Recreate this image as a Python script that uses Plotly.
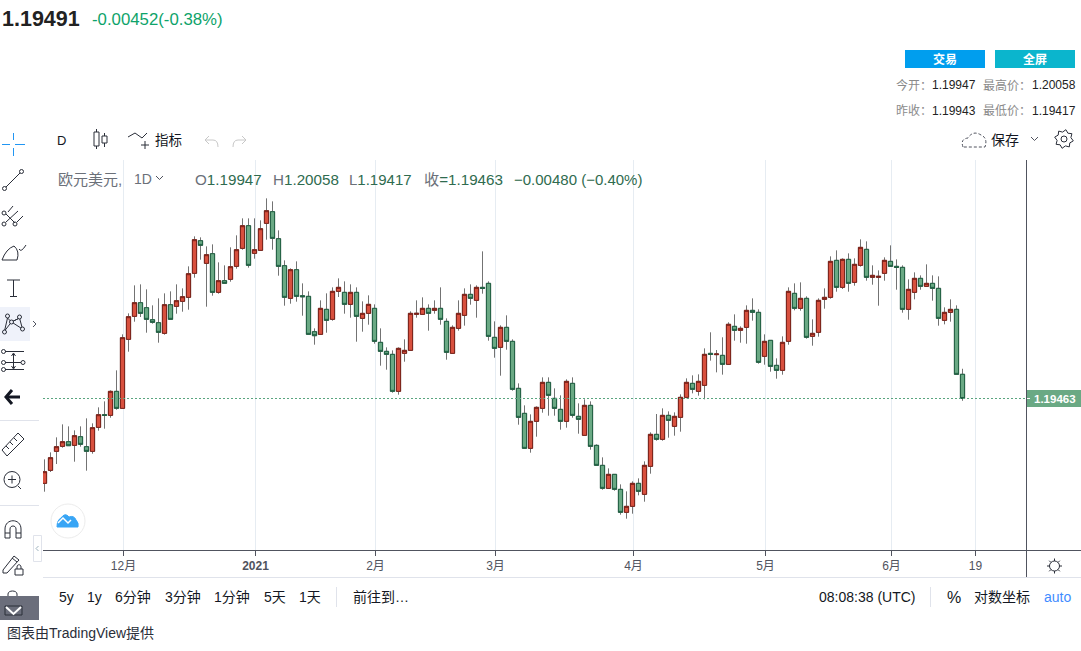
import math

import plotly.graph_objects as go

W, H = 1081, 651
FONT = "Liberation Sans, Noto Sans CJK SC"

# EUR/USD daily candles
opens = [
    1.17766, 1.18026, 1.18406, 1.18506, 1.18599, 1.18526, 1.18699, 1.18499, 1.18406, 1.18886,
    1.19139, 1.19126, 1.19606, 1.19266, 1.20646, 1.21106, 1.21379, 1.21279, 1.21039, 1.20979,
    1.20766, 1.21339, 1.21306, 1.21406, 1.21486, 1.21966, 1.22619, 1.22166, 1.22359, 1.21586,
    1.21819, 1.21846, 1.22106, 1.22466, 1.22919, 1.22366, 1.22426, 1.22966, 1.23199, 1.22659,
    1.22119, 1.21466, 1.22039, 1.21519, 1.21506, 1.20799, 1.20746, 1.21246, 1.21046, 1.21606,
    1.21586, 1.21346, 1.21586, 1.21066, 1.21166, 1.21266, 1.20586, 1.20406, 1.20346, 1.19606,
    1.20366, 1.20426, 1.21146, 1.21146, 1.21266, 1.21226, 1.21266, 1.21006, 1.20366, 1.20866,
    1.21126, 1.21546, 1.21426, 1.21686, 1.21766, 1.20686, 1.20486, 1.20886, 1.20606, 1.19666,
    1.19166, 1.18466, 1.19006, 1.19266, 1.19786, 1.19466, 1.19246, 1.19006, 1.19766, 1.19106,
    1.18726, 1.19326, 1.18526, 1.18126, 1.17666, 1.17946, 1.17646, 1.17186, 1.17306, 1.17766,
    1.17546, 1.18106, 1.18746, 1.18646, 1.19126, 1.18906, 1.19086, 1.19486, 1.19766, 1.19606,
    1.19726, 1.20366, 1.20340, 1.20326, 1.20146, 1.20906, 1.20826, 1.20886, 1.21226, 1.21186,
    1.20306, 1.20626, 1.20126, 1.20026, 1.20606, 1.21566, 1.21266, 1.21466, 1.20706, 1.20786,
    1.21446, 1.21486, 1.22226, 1.21686, 1.22246, 1.21786, 1.22126, 1.22446, 1.21886, 1.21886,
    1.21966, 1.22206, 1.22106, 1.22086, 1.21246, 1.21586, 1.21866, 1.21706, 1.21766, 1.21666,
    1.21026, 1.21186, 1.21246, 1.19947,
]
highs = [
    1.18246, 1.18386, 1.18686, 1.18946, 1.18906, 1.18826, 1.18906, 1.19066, 1.18966, 1.19286,
    1.19406, 1.19626, 1.20026, 1.20746, 1.21166, 1.21726, 1.21746, 1.21646, 1.21326, 1.21466,
    1.21566, 1.21606, 1.21746, 1.21666, 1.22106, 1.22706, 1.22686, 1.22506, 1.22546, 1.22186,
    1.22126, 1.22486, 1.22726, 1.23066, 1.23066, 1.23066, 1.23026, 1.23466, 1.23406, 1.22826,
    1.22226, 1.22066, 1.22206, 1.21766, 1.21606, 1.20866, 1.21426, 1.21566, 1.21686, 1.21866,
    1.21806, 1.21746, 1.21686, 1.21406, 1.21526, 1.21346, 1.20866, 1.20486, 1.20426, 1.20486,
    1.20646, 1.21206, 1.21426, 1.21486, 1.21346, 1.21426, 1.21686, 1.21066, 1.20926, 1.21426,
    1.21666, 1.21746, 1.21726, 1.22406, 1.21806, 1.21006, 1.20926, 1.21126, 1.20646, 1.19766,
    1.19326, 1.19146, 1.19306, 1.19886, 1.19886, 1.19666, 1.19526, 1.19846, 1.19886, 1.19366,
    1.19446, 1.19406, 1.18546, 1.18286, 1.18066, 1.17946, 1.17746, 1.17606, 1.17806, 1.17866,
    1.18206, 1.18786, 1.19153, 1.19266, 1.19206, 1.19186, 1.19546, 1.19866, 1.19926, 1.19946,
    1.20466, 1.20787, 1.20433, 1.20687, 1.20987, 1.21146, 1.20906, 1.21326, 1.21466, 1.21246,
    1.20746, 1.20626, 1.20266, 1.20706, 1.21686, 1.21766, 1.21786, 1.21506, 1.21046, 1.21466,
    1.21666, 1.22306, 1.22426, 1.22266, 1.22366, 1.22266, 1.22646, 1.22606, 1.22126, 1.22026,
    1.22286, 1.22526, 1.22246, 1.22126, 1.21846, 1.21986, 1.21926, 1.22146, 1.21926, 1.21906,
    1.21286, 1.21446, 1.21326, 1.20058,
]
lows = [
    1.17599, 1.17993, 1.18153, 1.18479, 1.18519, 1.18199, 1.18499, 1.18019, 1.18359, 1.18819,
    1.18859, 1.19079, 1.19239, 1.19266, 1.20399, 1.20999, 1.21093, 1.20779, 1.20959, 1.20579,
    1.20739, 1.21046, 1.21159, 1.21199, 1.21239, 1.21879, 1.22239, 1.21299, 1.21519, 1.21559,
    1.21766, 1.21799, 1.22059, 1.22439, 1.22079, 1.22259, 1.22426, 1.22639, 1.22439, 1.21919,
    1.21319, 1.21359, 1.21399, 1.21119, 1.20746, 1.20539, 1.20746, 1.20779, 1.21019, 1.21493,
    1.21159, 1.21079, 1.20599, 1.20799, 1.20939, 1.20559, 1.20119, 1.20039, 1.19579, 1.19539,
    1.20199, 1.20426, 1.21079, 1.21146, 1.20819, 1.21159, 1.20939, 1.20239, 1.20366, 1.20819,
    1.20920, 1.21339, 1.21079, 1.21559, 1.20619, 1.20279, 1.19919, 1.20439, 1.19619, 1.18939,
    1.18466, 1.18379, 1.18699, 1.19179, 1.19119, 1.19119, 1.18839, 1.18879, 1.19079, 1.18759,
    1.18719, 1.18439, 1.18126, 1.17639, 1.17659, 1.17619, 1.17139, 1.17059, 1.17159, 1.17526,
    1.17399, 1.17959, 1.18619, 1.18619, 1.18679, 1.18719, 1.18799, 1.19466, 1.19566, 1.19519,
    1.19446, 1.20220, 1.19986, 1.19940, 1.20133, 1.20619, 1.20579, 1.20559, 1.21019, 1.20159,
    1.20139, 1.19999, 1.19859, 1.19939, 1.20539, 1.21226, 1.21219, 1.20659, 1.20519, 1.20699,
    1.21259, 1.21459, 1.21599, 1.21653, 1.21599, 1.21719, 1.22100, 1.21819, 1.21739, 1.21319,
    1.21819, 1.22106, 1.21639, 1.21179, 1.21039, 1.21446, 1.21639, 1.21699, 1.21419, 1.20919,
    1.20946, 1.20999, 1.19946, 1.19417,
]
closes = [
    1.17999, 1.18279, 1.18499, 1.18599, 1.18519, 1.18719, 1.18546, 1.18406, 1.18879, 1.19139,
    1.19126, 1.19606, 1.19266, 1.20679, 1.21099, 1.21379, 1.21166, 1.21046, 1.20986, 1.20786,
    1.21339, 1.21046, 1.21419, 1.21499, 1.21959, 1.22639, 1.22526, 1.22339, 1.21586, 1.21819,
    1.21766, 1.22099, 1.22439, 1.22919, 1.22126, 1.22439, 1.22859, 1.23219, 1.22666, 1.22106,
    1.21486, 1.22039, 1.21506, 1.21499, 1.20746, 1.20719, 1.21266, 1.21026, 1.21606, 1.21686,
    1.21346, 1.21586, 1.21106, 1.21166, 1.21346, 1.20606, 1.20406, 1.20346, 1.19606, 1.20466,
    1.20426, 1.21166, 1.21166, 1.21266, 1.21166, 1.21266, 1.21046, 1.20386, 1.20886, 1.21166,
    1.21546, 1.21466, 1.21686, 1.21666, 1.20706, 1.20466, 1.20886, 1.20606, 1.19646, 1.19086,
    1.18466, 1.19006, 1.19286, 1.19786, 1.19526, 1.19266, 1.19006, 1.19806, 1.19126, 1.19046,
    1.19326, 1.18506, 1.18126, 1.17666, 1.17946, 1.17646, 1.17186, 1.17306, 1.17766, 1.17606,
    1.18126, 1.18746, 1.18646, 1.19126, 1.19026, 1.19106, 1.19486, 1.19786, 1.19646, 1.19806,
    1.20346, 1.20346, 1.20353, 1.20146, 1.20947, 1.20826, 1.20866, 1.21226, 1.21186, 1.20186,
    1.20606, 1.20106, 1.20026, 1.20586, 1.21606, 1.21266, 1.21466, 1.20686, 1.20766, 1.21426,
    1.21486, 1.22206, 1.21686, 1.22246, 1.21766, 1.22146, 1.22486, 1.21886, 1.21926, 1.21906,
    1.22226, 1.22106, 1.22086, 1.21246, 1.21646, 1.21866, 1.21706, 1.21766, 1.21666, 1.21066,
    1.21186, 1.21246, 1.19946, 1.19463,
]
tick_index = [13, 35, 55, 75, 98, 120, 141, 155]
tick_text = ["12月", "<b>2021</b>", "2月", "3月", "4月", "5月", "6月", "19"]

period_labels = [("5y", 59), ("1y", 87), ("6分钟", 115), ("3分钟", 165), ("1分钟", 214),
                 ("5天", 264), ("1天", 299), ("前往到…", 353)]

UP_FILL, UP_EDGE = "#d8503e", "#7a2018"
DOWN_FILL, DOWN_EDGE = "#6aa984", "#1f5f42"
AXIS_COL = "#50535e"
GRID_COL = "#e6ecf2"
ICON = "#2a2e39"

shapes = []
notes = []


def line(x0, y0, x1, y1, color=ICON, width=1, dash=None):
    shapes.append(dict(type="line", xref="x2", yref="y2", x0=x0, y0=y0, x1=x1, y1=y1,
                       line=dict(color=color, width=width, dash=dash)))


def rect(x0, y0, x1, y1, fill, edge=None):
    shapes.append(dict(type="rect", xref="x2", yref="y2", x0=x0, y0=y0, x1=x1, y1=y1,
                       fillcolor=fill, line=dict(color=edge or fill, width=1 if edge else 0)))


def circle(cx, cy, r, edge=ICON, fill="rgba(0,0,0,0)", width=1):
    shapes.append(dict(type="circle", xref="x2", yref="y2", x0=cx - r, y0=cy - r, x1=cx + r,
                       y1=cy + r, fillcolor=fill, line=dict(color=edge, width=width)))


def path(d, edge=ICON, fill="rgba(0,0,0,0)", width=1, dash=None):
    shapes.append(dict(type="path", xref="x2", yref="y2", path=d, fillcolor=fill,
                       line=dict(color=edge, width=width, dash=dash)))


def txt(x, y, s, size=14, color="#131722", anchor="left"):
    # annotations sit about a pixel to the right of the given x
    if anchor == "left":
        x -= 1
    notes.append(dict(xref="x2", yref="y2", x=x, y=y, text=s, showarrow=False, xanchor=anchor,
                      yanchor="middle", borderpad=0, font=dict(size=size, color=color, family=FONT)))


fig = go.Figure()

# wicks first (grey), bodies on top with their darker border
fig.add_trace(go.Candlestick(
    x=list(range(len(opens))), open=opens, high=highs, low=lows, close=closes,
    increasing=dict(line=dict(color="#737373", width=1), fillcolor=UP_FILL),
    decreasing=dict(line=dict(color="#737373", width=1), fillcolor=DOWN_FILL),
    whiskerwidth=0, showlegend=False,
))
fig.add_trace(go.Candlestick(
    x=list(range(len(opens))), open=opens, close=closes,
    high=[max(o, c) for o, c in zip(opens, closes)],
    low=[min(o, c) for o, c in zip(opens, closes)],
    increasing=dict(line=dict(color=UP_EDGE, width=1), fillcolor=UP_FILL),
    decreasing=dict(line=dict(color=DOWN_EDGE, width=1), fillcolor=DOWN_FILL),
    whiskerwidth=0, showlegend=False,
))
# empty trace so the pixel overlay axes exist
fig.add_trace(go.Scatter(x=[], y=[], xaxis="x2", yaxis="y2", showlegend=False, hoverinfo="skip"))

# last price line
shapes.append(dict(type="line", xref="x domain", yref="y", x0=0, x1=1, y0=closes[-1], y1=closes[-1],
                   line=dict(color="#5aa57f", width=1, dash="2px,2px")))

# frame of the chart pane
line(43, 550.5, 1081, 550.5, AXIS_COL)
line(1026.5, 160, 1026.5, 577, AXIS_COL)
line(43, 577.5, 1081, 577.5, "#e0e3eb")
line(0, 420.5, 39, 420.5, "#e0e3eb")
line(0, 505.5, 39, 505.5, "#e0e3eb")
line(336.5, 587, 336.5, 607, "#e0e3eb")
line(930.5, 587, 930.5, 607, "#e0e3eb")

# price tag
rect(1027, 390, 1081, 407, "#6aa984")
line(1027, 398.5, 1030, 398.5, "#ffffff")
txt(1054.5, 398.5, "<b>1.19463</b>", 11.5, "#ffffff", "center")

# header
txt(2, 19, "<b>1.19491</b>", 21.5, "#222222")
txt(92, 19, "-0.00452(-0.38%)", 16.8, "#0ea36a")
rect(905, 50, 985, 68, "#009eee")
rect(995, 50, 1075, 68, "#0bb5cd")
txt(945, 59, "<b>交易</b>", 12, "#ffffff", "center")
txt(1035, 59, "<b>全屏</b>", 12, "#ffffff", "center")
txt(896, 85, "今开：", 12, "#8a8a8a")
txt(932, 85, "1.19947", 12, "#222222")
txt(983, 85, "最高价：", 12, "#8a8a8a")
txt(1032, 85, "1.20058", 12, "#222222")
txt(896, 111, "昨收：", 12, "#8a8a8a")
txt(932, 111, "1.19943", 12, "#222222")
txt(983, 111, "最低价：", 12, "#8a8a8a")
txt(1032, 111, "1.19417", 12, "#222222")

# chart toolbar
txt(57, 140, "D", 13, "#131722")
rect(94, 132, 99, 146, "#ffffff", ICON)
line(96.5, 129, 96.5, 132)
line(96.5, 146, 96.5, 149)
rect(102, 136, 107, 143, "#ffffff", ICON)
line(104.5, 133, 104.5, 136)
line(104.5, 143, 104.5, 147)
path("M128,137 L135,133 L142,138 L147,133")
line(145, 141, 145, 149)
line(141, 145, 149, 145)
txt(155, 140, "指标", 13.5, "#131722")
path("M209,136 L205,140 L209,144 M205,140 H213 Q218,140 218,147", "#c8c8c8")
path("M242,136 L246,140 L242,144 M246,140 H238 Q233,140 233,147", "#c8c8c8")
path("M963,147 Q960,139 968,138 Q973,130 981,135 Q988,138 985,147 Z", "#50535e", dash="3px,2px")
txt(991, 140, "保存", 14, "#131722")
path("M1031,137 L1034.5,140.5 L1038,137", "#50535e")
gear = []
for k in range(16):
    a = 2 * math.pi * (k + 0.5) / 16
    r = 9.5 if k % 2 == 0 else 7
    gear.append(f"{1064 + r * math.cos(a):.1f},{139 + r * math.sin(a):.1f}")
path("M" + " L".join(gear) + " Z")
circle(1064, 139, 3)

# chart legend line
txt(58, 179, "欧元美元,", 15, "#6b7079")
txt(134, 179, "1D", 14, "#6b7079")
path("M156,176 L159.5,179.5 L163,176", "#50535e")
green = "#2f6b4f"
txt(195, 179, '<span style="color:#6b7079">O</span>1.19947', 15.2, green)
txt(273, 179, '<span style="color:#6b7079">H</span>1.20058', 15.2, green)
txt(349, 179, '<span style="color:#6b7079">L</span>1.19417', 15, green)
txt(424, 179, '<span style="color:#6b7079">收</span>=1.19463', 15.2, green)
txt(514, 179, "−0.00480 (−0.40%)", 15, green)

# left drawing tools
blue = "#2196f3"
line(2, 144.5, 10, 144.5, blue)
line(15, 144.5, 25, 144.5, blue)
line(13.5, 133, 13.5, 140, blue)
line(13.5, 148, 13.5, 156, blue)
circle(21.5, 171.5, 2)
circle(4.5, 188.5, 2)
line(6, 187, 20, 173)
line(8, 212, 13, 206)
line(6, 214, 15, 223)
circle(4, 213, 2)
circle(4, 224, 2)
circle(15, 224, 2)
line(6, 222, 18, 211)
line(17, 222, 23, 216)
path("M2,260 H17 Q20,251 14,246 Q6,249 2,260 Z")
path("M19,249 Q21,253 26,245")
line(7, 280, 20, 280)
line(13.5, 280, 13.5, 296)
line(10, 296.5, 17, 296.5)
shapes.append(dict(type="rect", xref="x2", yref="y2", x0=0, y0=307, x1=30, y1=341,
                   fillcolor="#eff2fa", line=dict(width=0), layer="below"))
path("M4.5,331 L7.5,318 L11.5,322 L19.5,318 L22.5,329 L11.5,322 L4.5,331 M19.5,318 L11.5,322")
for cx, cy in [(4.5, 332), (7.5, 316), (11.5, 322), (19.5, 317), (22.5, 329)]:
    circle(cx, cy, 2, fill="#eff2fa")
path("M33,321 L36,324 L33,327", "#50535e")
line(5, 351.5, 24, 351.5)
line(5, 362.5, 21, 362.5)
line(5, 369.5, 24, 369.5)
circle(3.5, 351.5, 2)
circle(3.5, 362.5, 2)
circle(3.5, 369.5, 2)
circle(23, 362.5, 2)
line(13.5, 354, 13.5, 368)
path("M11.5,356 L13.5,353 L15.5,356 M11.5,366 L13.5,369 L15.5,366")
line(6, 397, 20, 397, "#131722", 3)
path("M12,390 L6,397 L12,404", "#131722", width=3)
path("M2,450 L18,433 L24,439 L7,456 Z")
path("M6,446 L9,449 M10,442 L13,445 M14,438 L17,441")
circle(12, 479.5, 8)
line(18, 486, 21, 489)
line(8, 479.5, 16, 479.5)
line(12, 475.5, 12, 483.5)
path("M5,538 V529 C5,518 21,518 21,529 V538 H16 V529 C16,525 10,525 10,529 V538 Z M5,533 H10 M16,533 H21")
path("M3,570 L14,556 L19,560 L7,573 L3,573 Z M12,558 L17,562")
rect(15, 569, 23, 575, "#ffffff", ICON)
path("M17,569 V567 C17,564 21,564 21,567 V569")
path("M8,596 V594 C8,590 17,590 17,594 V596")
rect(0, 596, 39, 620, "#6b6e7b")
path("M5,606 H22 V615 H5 Z", "#2a2e39")
path("M6,607 L13.5,614 L21,607", "#ffffff", width=2)

# logo and collapse tab
circle(68, 521, 17, "#ececec", "#ffffff", 1)
path("M57,527 Q57,520 61,518 Q65,512 69,517 Q74,515 76,520 Q79,523 78,527 Z", "#38a5f5", "#38a5f5")
path("M58,523 L63,518 L68,523 L71,520", "#ffffff", width=1.5)
shapes.append(dict(type="rect", xref="x2", yref="y2", x0=33.5, y0=535.5, x1=41.5, y1=561.5,
                   fillcolor="#ffffff", line=dict(color="#e0e3eb", width=1)))
path("M38.5,546 L36,548.5 L38.5,551", "#9db2bd")

# axis corner sun
circle(1054.5, 566, 5)
for k in range(8):
    a = 2 * math.pi * k / 8
    line(1054.5 + 5 * math.cos(a), 566 + 5 * math.sin(a),
         1054.5 + 7.5 * math.cos(a), 566 + 7.5 * math.sin(a))

# bottom bar
for label, x in period_labels:
    txt(x, 597, label, 14, "#131722")
txt(819, 597, "08:08:38 (UTC)", 14, "#131722")
txt(947, 597, "%", 16, "#131722")
txt(974, 597, "对数坐标", 14, "#131722")
txt(1044, 597, "auto", 14, "#3f8cff")
txt(7, 633, "图表由TradingView提供", 14, "#2a2e39")

fig.update_layout(
    width=W, height=H,
    margin=dict(l=0, r=0, t=0, b=0),
    paper_bgcolor="#ffffff", plot_bgcolor="rgba(0,0,0,0)",
    font=dict(family=FONT),
    showlegend=False,
    boxgap=0.3, boxgroupgap=0,
    shapes=shapes,
    annotations=notes,
    xaxis=dict(
        domain=[43 / W, 1026 / W],
        range=[-0.25, -0.25 + 983 / 6],
        rangeslider=dict(visible=False),
        tickmode="array",
        tickvals=[i + 1 / 6 for i in tick_index],
        ticktext=tick_text,
        tickfont=dict(size=12, color="#50535e"),
        ticks="outside", ticklen=5, tickcolor=AXIS_COL,
        showgrid=True, gridcolor=GRID_COL, gridwidth=1,
        showline=False, zeroline=False,
    ),
    yaxis=dict(
        domain=[(H - 550) / H, (H - 160) / H],
        range=[1.16433, 1.24233],
        visible=False,
        showgrid=False,
    ),
    xaxis2=dict(domain=[0, 1], range=[0, W], visible=False, anchor="y2"),
    yaxis2=dict(domain=[0, 1], range=[H, 0], visible=False, anchor="x2"),
)

fig.write_html("out.html", config=dict(displayModeBar=False),
               post_script="document.body.style.margin='0';")
